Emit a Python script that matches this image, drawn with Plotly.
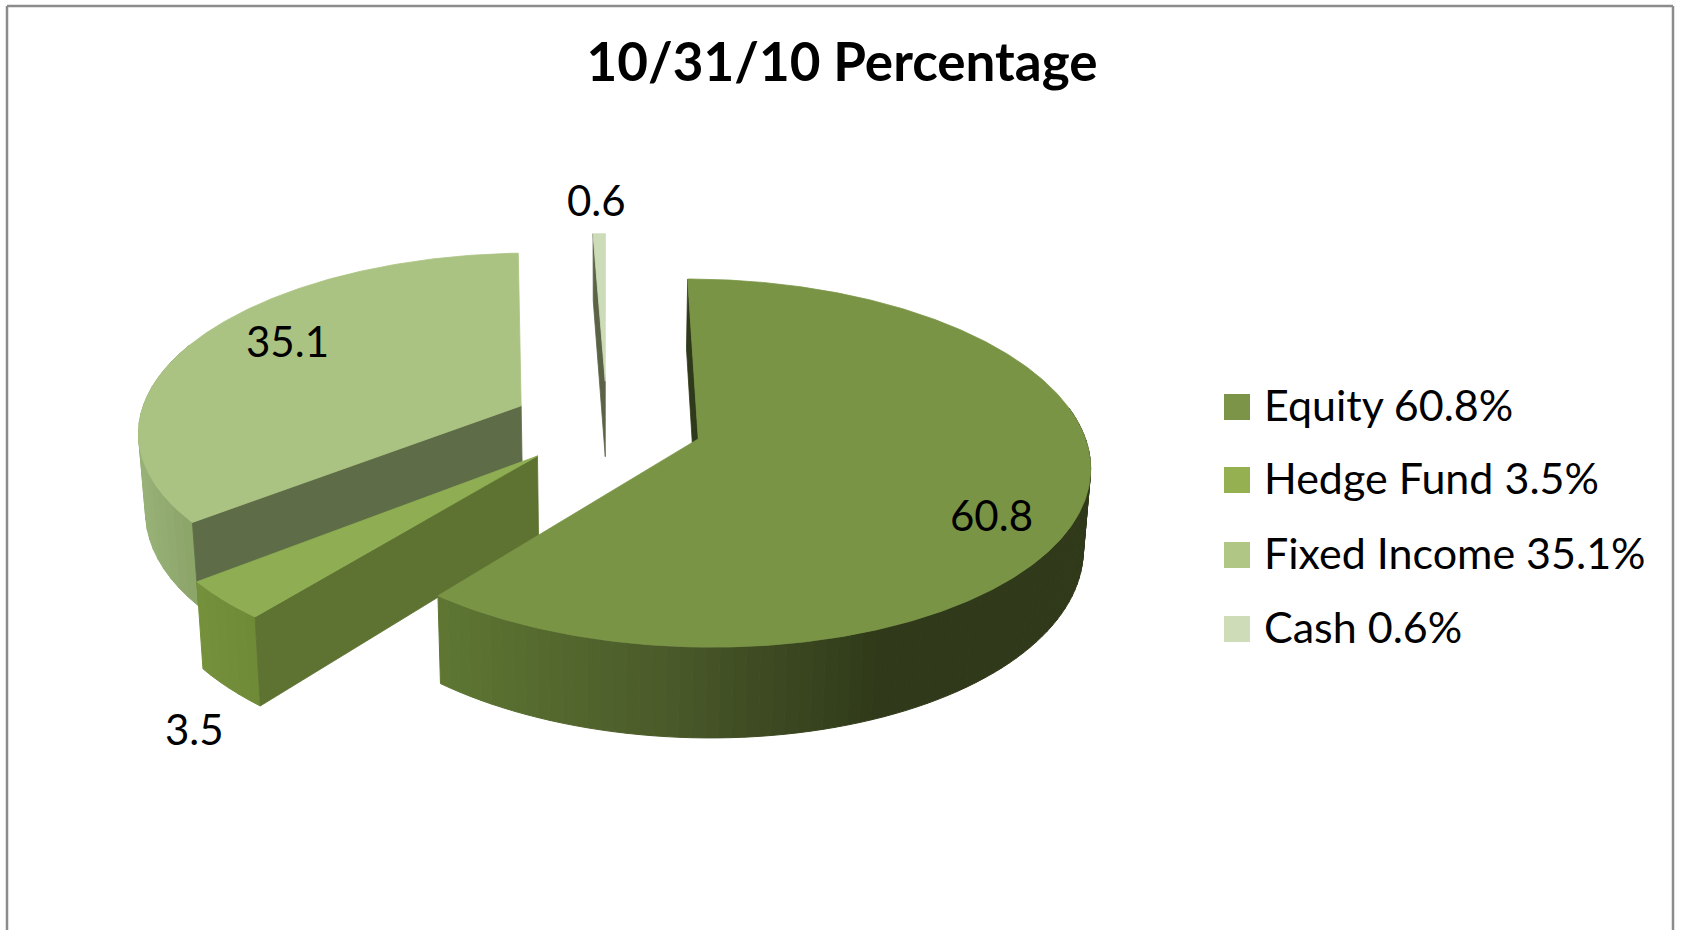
import numpy as np
import plotly.graph_objects as go

# ---- data ----
categories = ["Equity", "Hedge Fund", "Fixed Income", "Cash"]
values = [60.8, 3.5, 35.1, 0.6]
title_text = "10/31/10 Percentage"

# ---- style ----
top_colors = ["#7a9445", "#8fae53", "#abc382", "#cddcb8"]
legend_colors = ["#7c9447", "#94b050", "#afc685", "#cfdcb8"]
wall_colors = ["#2f3a1a", "#5e7332", "#5e6d47", "#5b6347"]
FONT = "Lato"
EXPLODE = 0.25
VX, CY, SX, SY, SZ, P = 607.0, 424.0, 383.0, 177.0, 78.0, 0.13


def project(X, Y, z=0.0):
    X, Y = np.asarray(X, float), np.asarray(Y, float)
    s = 1.0 / (1.0 + P * Y)
    return VX + SX * X * s * (1 - 0.015 * z), CY - SY * Y * s + SZ * z * s


def hex_rgb(h):
    return np.array([int(h[i:i + 2], 16) for i in (1, 3, 5)], float)


def ramp(x, stops):
    xs = [a for a, _ in stops]
    rgb = [np.interp(x, xs, [hex_rgb(c)[i] for _, c in stops]) for i in range(3)]
    return "rgb(%d,%d,%d)" % tuple(rgb)


fig = go.Figure()


def poly(xs, ys, color, lw=0.8):
    fig.add_trace(go.Scatter(x=list(xs), y=list(ys), mode="lines", fill="toself",
                             fillcolor=color, line=dict(color=color, width=lw),
                             hoverinfo="skip", showlegend=False))


# angular extents of the slices, clockwise from twelve o'clock
total = sum(values)
edges = np.concatenate([[0.0], np.cumsum(values) / total * 360.0])
slices = []
for i in range(len(values)):
    a0, a1 = edges[i], edges[i + 1]
    mid = np.radians((a0 + a1) / 2)
    slices.append((a0, a1, EXPLODE * np.sin(mid), EXPLODE * np.cos(mid)))


def rim(i, t):
    a0, a1, ax, ay = slices[i]
    r = np.radians(t)
    return ax + np.sin(r), ay + np.cos(r)


def wall(i, angle):
    a0, a1, ax, ay = slices[i]
    ox, oy = rim(i, angle)
    xt, yt = project([ax, ox], [ay, oy], 0)
    xb, yb = project([ox, ax], [oy, ay], 1)
    poly(np.r_[xt, xb, xt[0]], np.r_[yt, yb, yt[0]], wall_colors[i])


def outer(i, t0, t1, stops, n):
    tt = np.linspace(t0, t1, n + 1)
    for u, v in zip(tt[:-1], tt[1:]):
        X, Y = rim(i, np.array([u, v]))
        xt, yt = project(X, Y, 0)
        xb, yb = project(X[::-1], Y[::-1], 1)
        poly(np.r_[xt, xb, xt[0]], np.r_[yt, yb, yt[0]], ramp(xt.mean(), stops), 1.0)


def top(i):
    a0, a1, ax, ay = slices[i]
    tt = np.linspace(a0, a1, max(int(a1 - a0) * 2, 6))
    X, Y = rim(i, tt)
    x, y = project(np.r_[ax, X, ax], np.r_[ay, Y, ay], 0)
    poly(x, y, top_colors[i])


# painted from the back to the front
wall(3, edges[3]); top(3)
outer(2, edges[2], edges[2] + 60, [(130, "#9ab47a"), (200, "#8aa266")], 20)
wall(2, edges[2]); top(2)
outer(1, edges[1], edges[2], [(200, "#76913c"), (262, "#6f8a38")], 6)
wall(1, edges[1]); top(1)
outer(0, 80, edges[1],
      [(440, "#5f7733"), (660, "#4b5b2a"), (880, "#303a1a"), (1100, "#303a1a")], 80)
wall(0, edges[0]); top(0)

# legend
legend_x = [1237] * 4
legend_y = [407, 480, 555, 629]
fig.add_trace(go.Scatter(x=legend_x, y=legend_y, mode="markers", hoverinfo="skip", showlegend=False,
                         marker=dict(symbol="square", size=26, color=legend_colors, line=dict(width=0))))
fig.add_trace(go.Scatter(x=[1264] * 4, y=[y + 3 for y in legend_y], mode="text", hoverinfo="skip",
                         showlegend=False, textposition="middle right",
                         text=[f"{c} {v}%" for c, v in zip(categories, values)],
                         textfont=dict(family=FONT, size=43, color="#000000")))

# data labels
label_pos = {"Equity": (991, 515), "Hedge Fund": (194, 729), "Fixed Income": (287, 341), "Cash": (596, 200)}
for c, v in zip(categories, values):
    fig.add_annotation(x=label_pos[c][0], y=label_pos[c][1], text=str(v), showarrow=False,
                       font=dict(family=FONT, size=42, color="#000000"))

frame = dict(color="#8c8c8c", width=2.5)
fig.add_shape(type="line", x0=7, x1=1673, y0=6, y1=6, line=frame)
fig.add_shape(type="line", x0=7, x1=7, y0=6, y1=930, line=frame)
fig.add_shape(type="line", x0=1673, x1=1673, y0=6, y1=930, line=frame)

W, H = 1681, 930
fig.update_layout(
    width=W, height=H, margin=dict(l=0, r=0, t=0, b=0),
    paper_bgcolor="white", plot_bgcolor="white", showlegend=False,
    title=dict(text=title_text, x=842 / W, y=1 - 62 / H, xanchor="center", yanchor="middle",
               font=dict(family=FONT, size=53, color="#000000", weight="bold")),
    xaxis=dict(visible=False, range=[0, W], fixedrange=True),
    yaxis=dict(visible=False, range=[H, 0], fixedrange=True),
)
fig.write_html("out.html", config={"displayModeBar": False},
               post_script="document.body.style.margin='0';document.body.style.overflow='hidden';")
